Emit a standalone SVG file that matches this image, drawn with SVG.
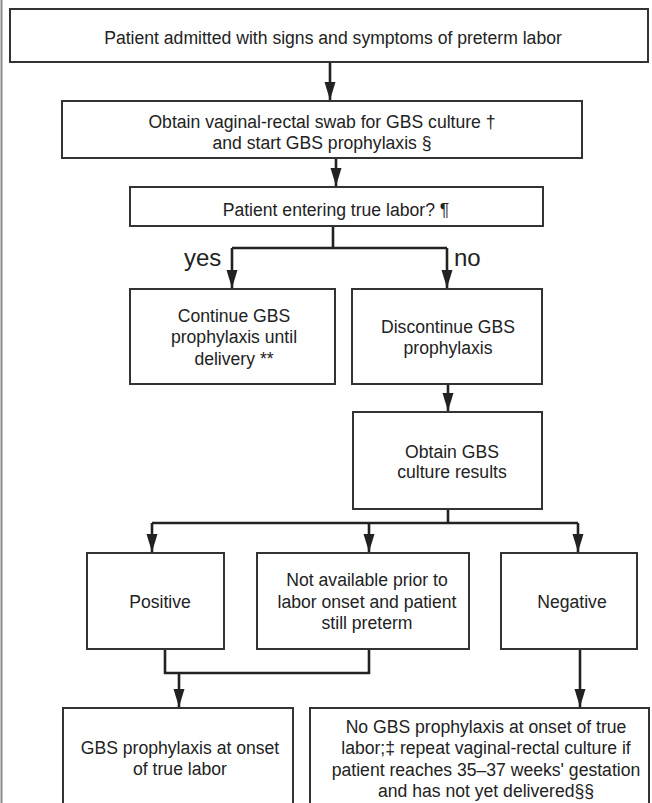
<svg xmlns="http://www.w3.org/2000/svg" width="652" height="803" viewBox="0 0 652 803">
  <style>
    .box { fill: #fff; stroke: #333; stroke-width: 2; }
    .lbl { font-family: "Liberation Sans", Arial, sans-serif; font-size: 17.6px; fill: #222; text-anchor: middle; }
    .big { font-family: "Liberation Sans", Arial, sans-serif; font-size: 24px; fill: #222; }
    .wire { fill: none; stroke: #222; stroke-width: 2.6; }
  </style>
  <defs>
    <!-- narrow filled arrowhead, tip at the end of the line -->
    <marker id="arrow" markerUnits="userSpaceOnUse" markerWidth="20" markerHeight="12" viewBox="0 0 20 12" refX="19" refY="6" orient="auto">
      <path d="M1,0.5 L1,11.5 L19,6 Z" fill="#222"/>
    </marker>
  </defs>
  <rect width="652" height="803" fill="#fff"/>
  <line x1="1.5" y1="0" x2="1.5" y2="803" stroke="#8a8a8a" stroke-width="2"/>

  <g id="connectors">
    <path class="wire" d="M330,62 V100" marker-end="url(#arrow)"/>
    <path class="wire" d="M336,158 V186" marker-end="url(#arrow)"/>
    <path class="wire" d="M333,227 V248 M232,248 H447"/>
    <path class="wire" d="M232,248 V288" marker-end="url(#arrow)"/>
    <path class="wire" d="M447,248 V288" marker-end="url(#arrow)"/>
    <path class="wire" d="M448,384 V411" marker-end="url(#arrow)"/>
    <path class="wire" d="M448,509 V523 M152,523 H578"/>
    <path class="wire" d="M152,523 V552" marker-end="url(#arrow)"/>
    <path class="wire" d="M369,523 V552" marker-end="url(#arrow)"/>
    <path class="wire" d="M578,523 V552" marker-end="url(#arrow)"/>
    <path class="wire" d="M165,649 V673 H369 V649"/>
    <path class="wire" d="M179,673 V707" marker-end="url(#arrow)"/>
    <path class="wire" d="M580,649 V707" marker-end="url(#arrow)"/>
    <text class="big" x="184" y="266">yes</text>
    <text class="big" x="454" y="266">no</text>
  </g>

  <g id="admitted">
    <rect class="box" x="10" y="9" width="638" height="53"/>
    <text class="lbl" x="333" y="44">Patient admitted with signs and symptoms of preterm labor</text>
  </g>
  <g id="swab">
    <rect class="box" x="62" y="101" width="520" height="57"/>
    <text class="lbl" x="322" y="128">Obtain vaginal-rectal swab for GBS culture †</text>
    <text class="lbl" x="322" y="149">and start GBS prophylaxis §</text>
  </g>
  <g id="true-labor">
    <rect class="box" x="130" y="187" width="413" height="39"/>
    <text class="lbl" x="336" y="216">Patient entering true labor? ¶</text>
  </g>
  <g id="continue">
    <rect class="box" x="130" y="289" width="205" height="95"/>
    <text class="lbl" x="234" y="322">Continue GBS</text>
    <text class="lbl" x="234" y="343">prophylaxis until</text>
    <text class="lbl" x="234" y="365">delivery **</text>
  </g>
  <g id="discontinue">
    <rect class="box" x="352" y="289" width="190" height="95"/>
    <text class="lbl" x="448" y="333">Discontinue GBS</text>
    <text class="lbl" x="448" y="354">prophylaxis</text>
  </g>
  <g id="results">
    <rect class="box" x="353" y="412" width="189" height="97"/>
    <text class="lbl" x="452" y="458">Obtain GBS</text>
    <text class="lbl" x="452" y="478">culture results</text>
  </g>
  <g id="positive">
    <rect class="box" x="87" y="553" width="137" height="96"/>
    <text class="lbl" x="160" y="608">Positive</text>
  </g>
  <g id="not-available">
    <rect class="box" x="257" y="553" width="212" height="96"/>
    <text class="lbl" x="367" y="586">Not available prior to</text>
    <text class="lbl" x="367" y="608">labor onset and patient</text>
    <text class="lbl" x="367" y="629">still preterm</text>
  </g>
  <g id="negative">
    <rect class="box" x="501" y="553" width="136" height="96"/>
    <text class="lbl" x="572" y="608">Negative</text>
  </g>
  <g id="prophylaxis-onset">
    <rect class="box" x="63" y="708" width="230" height="110"/>
    <text class="lbl" x="180" y="754">GBS prophylaxis at onset</text>
    <text class="lbl" x="180" y="775">of true labor</text>
  </g>
  <g id="no-prophylaxis">
    <rect class="box" x="310" y="708" width="339" height="110"/>
    <text class="lbl" x="486" y="733">No GBS prophylaxis at onset of true</text>
    <text class="lbl" x="486" y="754">labor;‡ repeat vaginal-rectal culture if</text>
    <text class="lbl" x="486" y="776">patient reaches 35–37 weeks' gestation</text>
    <text class="lbl" x="486" y="797">and has not yet delivered§§</text>
  </g>
</svg>
